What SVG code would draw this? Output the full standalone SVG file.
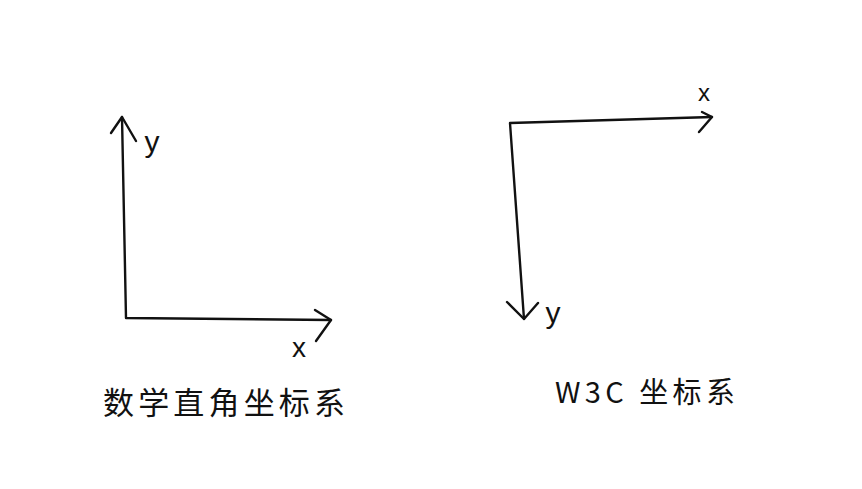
<svg xmlns="http://www.w3.org/2000/svg" width="862" height="489" viewBox="0 0 862 489">
<style>
.ax{fill:none;stroke:#111;stroke-width:2.4;stroke-linecap:round;stroke-linejoin:round}
.lbl{font-family:"Liberation Sans","Noto Sans CJK SC",sans-serif;fill:#111}
.cap{font-family:"Noto Sans CJK SC","Liberation Sans",sans-serif;fill:#111}
</style>
<rect width="862" height="489" fill="#fff"/>
<g id="connectors">
<path class="ax" d="M122,117 L126,318 L331,320"/>
<path class="ax" d="M111,133 L122,117 L136,141"/>
<path class="ax" d="M315,310 L331,320 L316,341"/>
<path class="ax" d="M712,117 L510,123 L524,319"/>
<path class="ax" d="M702,112 L712,117 L699,132"/>
<path class="ax" d="M507,302 L524,319 L538,303"/>
</g>
<g id="math-labels">
<text class="lbl" x="152" y="152" font-size="30" text-anchor="middle">y</text>
<text class="lbl" x="299" y="357" font-size="28" text-anchor="middle">x</text>
</g>
<g id="w3c-labels">
<text class="lbl" x="704" y="101" font-size="24" text-anchor="middle">x</text>
<text class="lbl" x="553" y="323" font-size="30" text-anchor="middle">y</text>
</g>
<g id="math-caption">
<text class="cap" x="103" y="414" font-size="31" textLength="242" lengthAdjust="spacing">数学直角坐标系</text>
</g>
<g id="w3c-caption">
<text class="cap" x="555" y="403" font-size="29" textLength="180" lengthAdjust="spacing">W3C 坐标系</text>
</g>
</svg>
